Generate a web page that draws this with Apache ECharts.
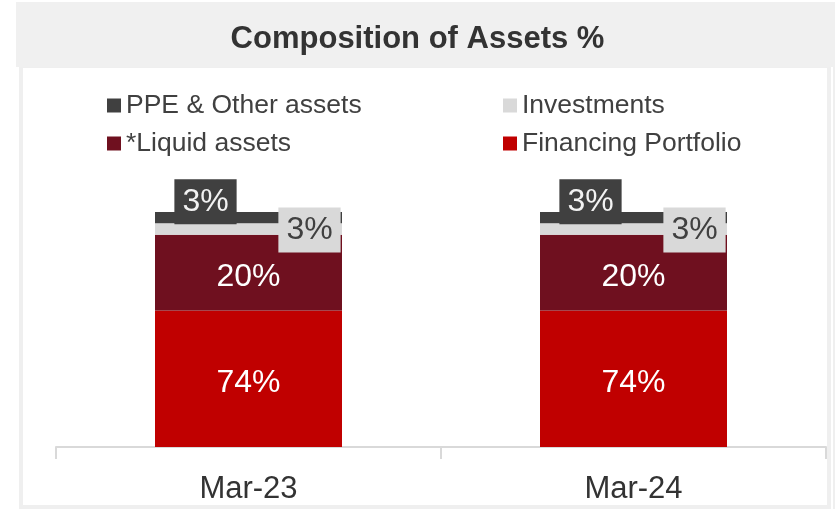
<!DOCTYPE html>
<html>
<head>
<meta charset="utf-8">
<script src="https://cdn.jsdelivr.net/npm/echarts@6/dist/echarts.min.js"></script>
<style>
  html, body { margin: 0; padding: 0; background: #fff; }
  #chart { width: 835px; height: 509px; }
</style>
</head>
<body>
<div id="chart"></div>
<script>
// data
var categories = ['Mar-23', 'Mar-24'];
var financing = [74, 74];
var liquid = [20, 20];
var investments = [3, 3];
var ppe = [3, 3];

var font = 'Liberation Sans, Arial, sans-serif';
var chartDom = document.getElementById('chart');
var myChart = echarts.init(chartDom);

function pct(p) { return p.value + '%'; }

var option = {
  animation: false,
  backgroundColor: '#fff',
  title: {
    text: 'Composition of Assets %',
    left: 'center',
    top: 19,
    textStyle: { fontFamily: font, fontSize: 31, fontWeight: 'bold', color: '#333' }
  },
  graphic: [
    // white panel with light grey frame
    { type: 'rect', z: -10, shape: { x: 21, y: 66, width: 808, height: 441 },
      style: { fill: '#fff', stroke: '#efefef', lineWidth: 4 } },
    { type: 'rect', z: -10, shape: { x: 833, y: 66, width: 2, height: 443 },
      style: { fill: '#efefef' } },
    // title bar
    { type: 'rect', z: -5, shape: { x: 16, y: 2, width: 819, height: 65 },
      style: { fill: '#f0f0f0' } }
  ],
  legend: [{
    left: 102, top: 87, orient: 'vertical', itemGap: 11,
    itemWidth: 14, itemHeight: 14, icon: 'rect',
    data: ['PPE & Other assets', '*Liquid assets'],
    textStyle: { fontFamily: font, fontSize: 26.5, color: '#404040', lineHeight: 26 }
  }, {
    left: 498, top: 87, orient: 'vertical', itemGap: 11,
    itemWidth: 14, itemHeight: 14, icon: 'rect',
    data: ['Investments', 'Financing Portfolio'],
    textStyle: { fontFamily: font, fontSize: 26.5, color: '#404040', lineHeight: 26 }
  }],
  grid: { left: 56, right: 9, top: 212, bottom: 62 },
  xAxis: {
    type: 'category',
    data: categories,
    axisLine: { show: true, lineStyle: { color: '#d9d9d9', width: 2 } },
    axisTick: { show: true, length: 12, lineStyle: { color: '#d9d9d9', width: 2 } },
    axisLabel: { fontFamily: font, fontSize: 31, color: '#333', margin: 27 }
  },
  yAxis: { type: 'value', min: 38, max: 100, show: false, splitLine: { show: false } },
  series: [{
    name: 'Financing Portfolio', type: 'bar', stack: 'a', barWidth: 187,
    data: financing, itemStyle: { color: '#c00000' },
    label: { show: true, position: 'inside', offset: [0, 4], formatter: pct,
      fontFamily: font, fontSize: 32, color: '#fff' }
  }, {
    name: '*Liquid assets', type: 'bar', stack: 'a', barWidth: 187,
    data: liquid, itemStyle: { color: '#6f101f' },
    label: { show: true, position: 'inside', offset: [0, 5], formatter: pct,
      fontFamily: font, fontSize: 32, color: '#fff' }
  }, {
    name: 'Investments', type: 'bar', stack: 'a', barWidth: 187,
    data: investments, itemStyle: { color: '#d9d9d9' },
    label: { show: true, position: 'inside', offset: [61, 1], formatter: pct,
      fontFamily: font, fontSize: 32, color: '#404040',
      backgroundColor: '#d9d9d9', padding: [7, 8, 6, 8] }
  }, {
    name: 'PPE & Other assets', type: 'bar', stack: 'a', barWidth: 187,
    data: ppe, itemStyle: { color: '#404040' },
    label: { show: true, position: 'inside', offset: [-43, -16], formatter: pct,
      fontFamily: font, fontSize: 32, color: '#f2f2f2',
      backgroundColor: '#404040', padding: [7, 8, 6, 8] }
  }]
};

myChart.setOption(option);
</script>
</body>
</html>
